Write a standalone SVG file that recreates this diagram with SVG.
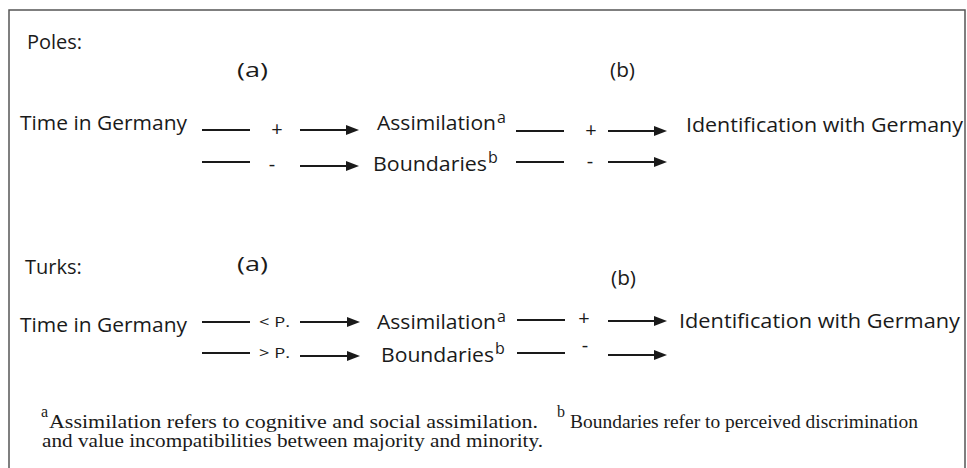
<svg xmlns="http://www.w3.org/2000/svg" width="967" height="468" viewBox="0 0 967 468">
  <style>
    .t { font-family: "Open Sans", "Liberation Sans", sans-serif; font-size: 20px; fill: #1a1a1a; }
    .sup { font-family: "Open Sans", "Liberation Sans", sans-serif; font-size: 16px; fill: #1a1a1a; }
    .lbl { font-family: "Open Sans", "Liberation Sans", sans-serif; font-size: 20px; fill: #1a1a1a; text-anchor: middle; }
    .sm { font-family: "Open Sans", "Liberation Sans", sans-serif; font-size: 15px; fill: #1a1a1a; }
    .fn { font-family: "Liberation Serif", "Times New Roman", serif; font-size: 19.5px; fill: #1a1a1a; }
    .fsup { font-family: "Liberation Serif", "Times New Roman", serif; font-size: 16px; fill: #1a1a1a; }
    .ln { stroke: #1a1a1a; stroke-width: 2; fill: none; }
    .ar { stroke: #1a1a1a; stroke-width: 2; fill: none; marker-end: url(#head); }
  </style>
  <defs>
    <marker id="head" viewBox="0 0 13 10" refX="9" refY="5" markerWidth="13" markerHeight="10" markerUnits="userSpaceOnUse" orient="auto">
      <path d="M0,0 L13,5 L0,10 z" fill="#1a1a1a"/>
    </marker>
  </defs>
  <rect width="967" height="468" fill="#ffffff"/>
  <path d="M9,468 V10 H965 V468" fill="none" stroke="#555" stroke-width="1.5"/>

  <!-- Poles section -->
  <g id="poles-title"><text class="t" x="27" y="49">Poles:</text></g>
  <g id="poles-a"><text class="t" x="237" y="77" textLength="31" lengthAdjust="spacingAndGlyphs">(a)</text></g>
  <g id="poles-b"><text class="t" x="610" y="77" textLength="25" lengthAdjust="spacingAndGlyphs">(b)</text></g>
  <g id="poles-time"><text class="t" x="20" y="130" textLength="167" lengthAdjust="spacingAndGlyphs">Time in Germany</text></g>
  <g id="poles-assim"><text class="t" x="377" y="130" textLength="119" lengthAdjust="spacingAndGlyphs">Assimilation</text><text class="sup" x="497" y="123">a</text></g>
  <g id="poles-bound"><text class="t" x="373" y="171" textLength="114" lengthAdjust="spacingAndGlyphs">Boundaries</text><text class="sup" x="488" y="163">b</text></g>
  <g id="poles-ident"><text class="t" x="686" y="132" textLength="277" lengthAdjust="spacingAndGlyphs">Identification with Germany</text></g>

  <!-- Turks section -->
  <g id="turks-title"><text class="t" x="25" y="274">Turks:</text></g>
  <g id="turks-a"><text class="t" x="237" y="271" textLength="31" lengthAdjust="spacingAndGlyphs">(a)</text></g>
  <g id="turks-b"><text class="t" x="611" y="285" textLength="25" lengthAdjust="spacingAndGlyphs">(b)</text></g>
  <g id="turks-time"><text class="t" x="20" y="332" textLength="167" lengthAdjust="spacingAndGlyphs">Time in Germany</text></g>
  <g id="turks-assim"><text class="t" x="377" y="329" textLength="119" lengthAdjust="spacingAndGlyphs">Assimilation</text><text class="sup" x="497" y="322">a</text></g>
  <g id="turks-bound"><text class="t" x="381" y="362" textLength="113" lengthAdjust="spacingAndGlyphs">Boundaries</text><text class="sup" x="495" y="354">b</text></g>
  <g id="turks-ident"><text class="t" x="679" y="328" textLength="281" lengthAdjust="spacingAndGlyphs">Identification with Germany</text></g>

  <!-- Connectors -->
  <g id="connectors">
    <!-- Poles row 1 -->
    <line class="ln" x1="202" y1="130" x2="250" y2="130"/>
    <text class="lbl" x="277" y="136">+</text>
    <line class="ar" x1="300" y1="130" x2="355" y2="130"/>
    <line class="ln" x1="516" y1="131" x2="564" y2="131"/>
    <text class="lbl" x="591" y="137">+</text>
    <line class="ar" x1="608" y1="131" x2="663" y2="131"/>
    <!-- Poles row 2 -->
    <line class="ln" x1="202" y1="162" x2="250" y2="162"/>
    <text class="lbl" x="272" y="171">-</text>
    <line class="ar" x1="300" y1="166" x2="355" y2="166"/>
    <line class="ln" x1="516" y1="162" x2="564" y2="162"/>
    <text class="lbl" x="590" y="168">-</text>
    <line class="ar" x1="608" y1="162" x2="663" y2="162"/>
    <!-- Turks row 1 -->
    <line class="ln" x1="202" y1="322" x2="250" y2="322"/>
    <text class="sm" x="259" y="327" textLength="31" lengthAdjust="spacingAndGlyphs">&lt; P.</text>
    <line class="ar" x1="300" y1="322" x2="356" y2="322"/>
    <line class="ln" x1="517" y1="320" x2="565" y2="320"/>
    <text class="lbl" x="584" y="325">+</text>
    <line class="ar" x1="608" y1="321" x2="663" y2="321"/>
    <!-- Turks row 2 -->
    <line class="ln" x1="202" y1="353" x2="250" y2="353"/>
    <text class="sm" x="259" y="358" textLength="31" lengthAdjust="spacingAndGlyphs">&gt; P.</text>
    <line class="ar" x1="300" y1="356" x2="356" y2="356"/>
    <line class="ln" x1="517" y1="353" x2="565" y2="353"/>
    <text class="lbl" x="585" y="352">-</text>
    <line class="ar" x1="608" y1="355" x2="663" y2="355"/>
  </g>

  <!-- Footnote -->
  <g id="footnote">
    <text class="fsup" x="41" y="417">a</text>
    <text class="fn" x="49" y="428" textLength="489" lengthAdjust="spacingAndGlyphs">Assimilation refers to cognitive and social assimilation.</text>
    <text class="fsup" x="557" y="417">b</text>
    <text class="fn" x="570" y="428" textLength="348" lengthAdjust="spacingAndGlyphs">Boundaries refer to perceived discrimination</text>
    <text class="fn" x="42" y="447" textLength="501" lengthAdjust="spacingAndGlyphs">and value incompatibilities between majority and minority.</text>
  </g>
</svg>
